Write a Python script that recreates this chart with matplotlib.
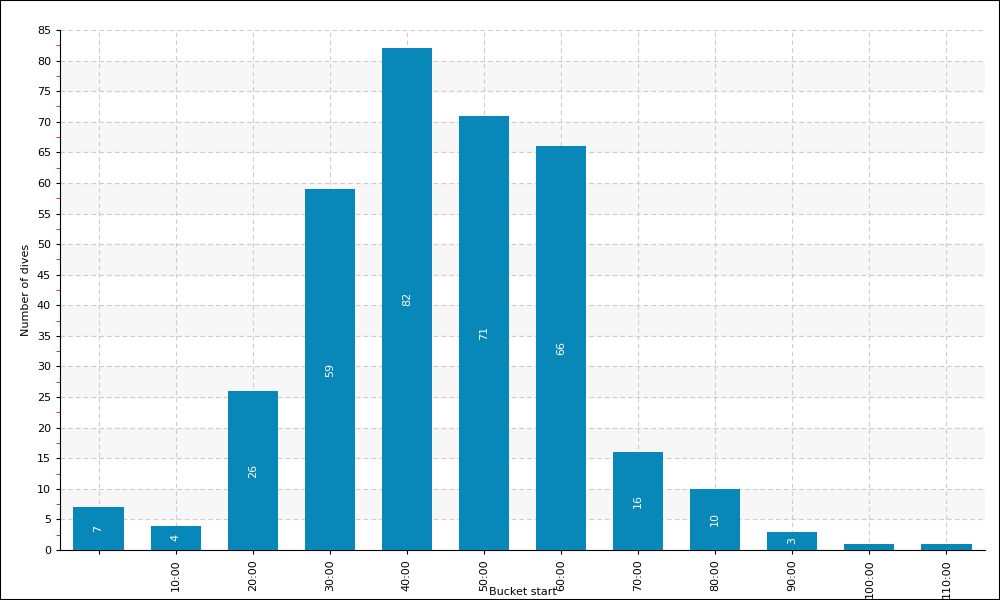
import matplotlib
matplotlib.use("Agg")
import matplotlib.pyplot as plt
from matplotlib.patches import Rectangle
import numpy as np

labels = ["", "10:00", "20:00", "30:00", "40:00", "50:00", "60:00", "70:00", "80:00", "90:00", "100:00", "110:00"]
values = [7, 4, 26, 59, 82, 71, 66, 16, 10, 3, 1, 1]

fig = plt.figure(figsize=(10, 6), dpi=100)
fig.patches.append(Rectangle((0, 0), 1, 1, transform=fig.transFigure, fill=False, edgecolor="black", linewidth=1.5))
ax = fig.add_axes([0.06, 0.0833, 0.925, 0.8667])
x = np.arange(len(values))
for lo in range(5, 85, 10):
    ax.axhspan(lo, lo + 5, color="#f7f7f7", zorder=0)
ax.bar(x, values, width=0.65, color="#0788b8", zorder=3)
for xi, v in zip(x, values):
    if v >= 3:
        ax.text(xi, v / 2, str(v), rotation=90, ha="center", va="center", color="white", fontsize=8, zorder=4)
ax.set_xlim(-0.5, 11.5)
ax.set_ylim(0, 85)
ax.set_xticks(x)
ax.set_xticklabels(labels, rotation=90, fontsize=8)
ax.set_yticks(range(0, 90, 5))
ax.set_yticks(np.arange(2.5, 85, 5), minor=True)
ax.tick_params(axis="y", which="minor", color="red", length=3)
ax.tick_params(axis="both", which="major", labelsize=8, length=3)
ax.grid(True, which="major", color="#cccccc", linestyle=(0, (4, 3)), linewidth=0.8, zorder=1)
ax.set_axisbelow(True)
for s in ["top", "right"]:
    ax.spines[s].set_visible(False)
fig.text(0.5225, 0.0133, "Bucket start", fontsize=8, ha="center", va="center")
ax.set_ylabel("Number of dives", fontsize=8, labelpad=4)
fig.savefig("out.png", dpi=100)
